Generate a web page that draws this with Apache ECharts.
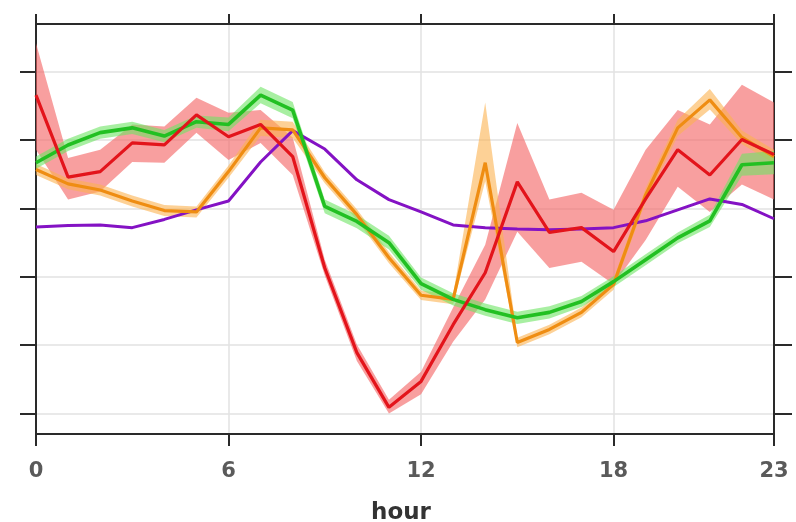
<!DOCTYPE html>
<html>
<head>
<meta charset="utf-8">
<script src="https://cdn.jsdelivr.net/npm/echarts@6/dist/echarts.min.js"></script>
<style>
html,body{margin:0;padding:0;background:#fff;}
#chart{width:796px;height:522px;}
</style>
</head>
<body>
<div id="chart"></div>
<script>
var hours = ['0','1','2','3','4','5','6','7','8','9','10','11','12','13','14','15','16','17','18','19','20','21','22','23'];
var xTickLabels = ['0','6','12','18','23'];
var yTicks = [0, 1, 2, 3, 4, 5];

var purple = [2.73,2.75,2.76,2.72,2.84,2.98,3.11,3.68,4.14,3.87,3.42,3.13,2.95,2.76,2.72,2.70,2.69,2.70,2.72,2.82,2.98,3.14,3.06,2.85];

var green = [3.67,3.93,4.11,4.18,4.06,4.27,4.23,4.66,4.44,3.03,2.81,2.50,1.90,1.67,1.52,1.40,1.48,1.64,1.93,2.25,2.57,2.82,3.64,3.67];
var greenLo = [3.58,3.84,4.02,4.09,3.97,4.18,4.13,4.54,4.32,2.93,2.71,2.40,1.81,1.58,1.43,1.31,1.39,1.56,1.85,2.17,2.49,2.73,3.48,3.50];
var greenHi = [3.76,4.02,4.20,4.27,4.15,4.36,4.33,4.78,4.56,3.13,2.91,2.60,1.99,1.76,1.61,1.49,1.57,1.72,2.01,2.33,2.65,2.91,3.80,3.84];

var orange = [3.57,3.36,3.27,3.11,2.97,2.95,3.54,4.18,4.15,3.45,2.91,2.28,1.73,1.67,3.67,1.04,1.23,1.48,1.89,3.20,4.18,4.59,4.04,3.76];
var orangeLo = [3.49,3.28,3.19,3.03,2.89,2.87,3.45,4.06,4.03,3.37,2.83,2.20,1.66,1.60,3.40,0.97,1.16,1.41,1.81,3.10,4.06,4.45,3.94,3.66];
var orangeHi = [3.65,3.44,3.35,3.19,3.05,3.03,3.63,4.30,4.27,3.53,2.99,2.36,1.80,1.74,4.55,1.11,1.30,1.55,1.97,3.30,4.30,4.75,4.14,3.86];

var red = [4.66,3.46,3.54,3.96,3.93,4.37,4.05,4.23,3.76,2.13,0.89,0.09,0.47,1.30,2.06,3.39,2.65,2.72,2.37,3.14,3.86,3.49,4.01,3.79];
var redLo = [3.86,3.13,3.25,3.68,3.67,4.11,3.71,3.96,3.49,2.02,0.77,0.00,0.28,1.05,1.67,2.66,2.13,2.22,1.89,2.54,3.32,2.95,3.35,3.13];
var redHi = [5.42,3.74,3.86,4.23,4.20,4.62,4.40,4.44,4.04,2.25,1.01,0.20,0.61,1.55,2.47,4.25,3.13,3.23,2.98,3.86,4.44,4.23,4.81,4.55];

function diff(hi, lo){ return hi.map(function(v,i){ return +(v - lo[i]).toFixed(3); }); }
function showTick(i){ return xTickLabels.indexOf(hours[i]) >= 0; }

function band(id, lo, hi, color){
  return [
    {type:'line', name:id+'lo', data:lo, stack:id, symbol:'none', lineStyle:{opacity:0}, silent:true, z:1},
    {type:'line', name:id+'band', data:diff(hi, lo), stack:id, symbol:'none', lineStyle:{opacity:0}, areaStyle:{color:color, opacity:1}, silent:true, z:1}
  ];
}
function line(name, data, color, width){
  return {type:'line', name:name, data:data, symbol:'none', lineStyle:{color:color, width:width}, z:3};
}

var axisCol = '#2a2a2a';
var option = {
  animation:false,
  backgroundColor:'#fff',
  grid:{left:36, right:22, top:24, bottom:88, containLabel:false, outerBoundsMode:'none'},
  xAxis:[{
    type:'category', data:hours, boundaryGap:false, position:'bottom',
    axisLine:{show:true, onZero:false, lineStyle:{color:axisCol, width:2}},
    axisTick:{show:true, interval:showTick, length:12, lineStyle:{color:axisCol, width:2}},
    axisLabel:{show:true, interval:showTick, margin:27, color:'#5a5a5a', fontSize:21, fontWeight:'bold', fontFamily:'DejaVu Sans'},
    splitLine:{show:true, interval:showTick, lineStyle:{color:'#e2e2e2', width:1.5}},
    name:'hour', nameLocation:'middle', nameGap:68,
    nameTextStyle:{color:'#333', fontSize:23, fontWeight:'bold', fontFamily:'DejaVu Sans', padding:[0,8,0,0]}
  },{
    type:'category', data:hours, boundaryGap:false, position:'top',
    axisLine:{show:true, onZero:false, lineStyle:{color:axisCol, width:2}},
    axisTick:{show:true, interval:showTick, length:10, lineStyle:{color:axisCol, width:2}},
    axisLabel:{show:false}, splitLine:{show:false}
  }],
  yAxis:[{
    type:'value', min:-0.3, max:5.7, position:'left',
    axisLine:{show:true, onZero:false, lineStyle:{color:axisCol, width:2}},
    axisTick:{show:true, customValues:yTicks, length:16, lineStyle:{color:axisCol, width:2}},
    axisLabel:{show:false},
    splitLine:{show:true, lineStyle:{color:'#e2e2e2', width:1.5}}
  },{
    type:'value', min:-0.3, max:5.7, position:'right',
    axisLine:{show:true, onZero:false, lineStyle:{color:axisCol, width:2}},
    axisTick:{show:true, customValues:yTicks, length:18, lineStyle:{color:axisCol, width:2}},
    axisLabel:{show:false}, splitLine:{show:false}
  }],
  series: [].concat(
    band('r', redLo, redHi, 'rgba(244,100,100,0.62)'),
    band('o', orangeLo, orangeHi, 'rgba(252,178,80,0.6)'),
    band('g', greenLo, greenHi, 'rgba(110,228,100,0.6)'),
    [
      line('purple', purple, '#8412c4', 3),
      line('orange', orange, '#ef8d12', 3.2),
      line('green', green, '#22c022', 3.6),
      line('red', red, '#e3141b', 3.2)
    ]
  )
};
var chart = echarts.init(document.getElementById('chart'), null, {renderer:'canvas'});
chart.setOption(option);
</script>
</body>
</html>
